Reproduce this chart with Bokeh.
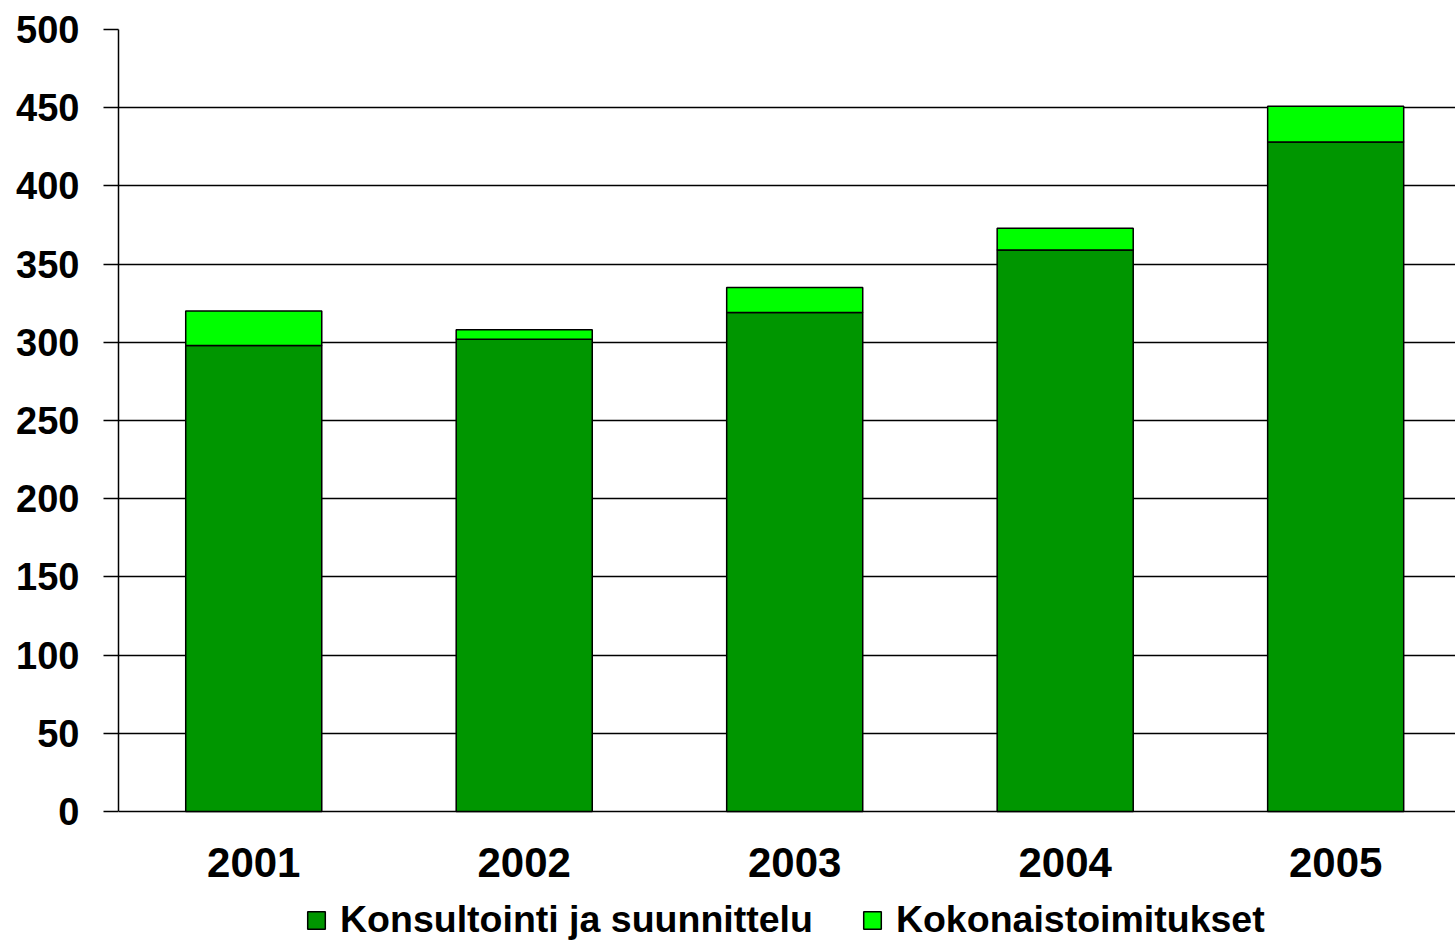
from bokeh.plotting import figure
from bokeh.models import ColumnDataSource, Range1d, FixedTicker, Legend, LegendItem
from bokeh.core.properties import value
from bokeh.embed import file_html
from bokeh.resources import INLINE

years = ["2001", "2002", "2003", "2004", "2005"]
konsultointi = [298, 302, 319, 359, 428]
kokonaistoimitukset = [22, 6, 16, 14, 23]
series_names = ["Konsultointi ja suunnittelu", "Kokonaistoimitukset"]
y_ticks = list(range(0, 501, 50))

DARK = "#009600"
LIGHT = "#00FF00"
FONT = "Liberation Sans"

xpos = [i + 0.5 for i in range(len(years))]
src = ColumnDataSource(dict(x=xpos, k1=konsultointi, k2=kokonaistoimitukset,
                            year=years, base=[0] * len(years)))

# frame extends below zero so the category labels and legend sit inside it
p = figure(frame_width=1337, frame_height=911, x_range=Range1d(0, 4.943),
           y_range=Range1d(-82.4, 500),
           output_backend="svg", toolbar_location=None,
           min_border_left=118, min_border_right=0, min_border_top=29, min_border_bottom=0)
p.outline_line_color = None
p.background_fill_color = "white"

rs = p.vbar_stack(["k1", "k2"], x="x", width=0.503, color=[DARK, LIGHT],
                  line_color="black", line_width=1.5, source=src)

# category labels
p.text(x="x", y="base", text="year", source=src, y_offset=51,
       text_align="center", text_baseline="middle",
       text_font=value(FONT), text_font_style="bold", text_font_size="42px",
       text_color="black")

p.xaxis.visible = False

p.yaxis.ticker = FixedTicker(ticks=y_ticks)
p.yaxis.bounds = (0, 500)
p.yaxis.major_tick_out = 15
p.yaxis.major_tick_in = 0
p.yaxis.major_tick_line_color = "black"
p.yaxis.major_tick_line_width = 1.5
p.yaxis.minor_tick_line_color = None
p.yaxis.axis_line_color = "black"
p.yaxis.axis_line_width = 1.5
p.yaxis.major_label_text_font = FONT
p.yaxis.major_label_text_font_style = "bold"
p.yaxis.major_label_text_font_size = "38px"
p.yaxis.major_label_text_color = "black"
p.yaxis.major_label_standoff = 24

p.xgrid.grid_line_color = None
p.ygrid.grid_line_color = "black"
p.ygrid.grid_line_width = 1.5

legend = Legend(items=[LegendItem(label=series_names[i], renderers=[rs[i]]) for i in range(2)],
                orientation="horizontal", location=(187, -1),
                label_text_font=FONT, label_text_font_style="bold",
                label_text_font_size="37.5px", label_text_color="black",
                glyph_width=22, glyph_height=22, label_standoff=13, spacing=48,
                border_line_color=None, background_fill_alpha=0,
                padding=0, margin=0)
p.add_layout(legend, "center")

open("out.html", "w").write(file_html(p, INLINE))
